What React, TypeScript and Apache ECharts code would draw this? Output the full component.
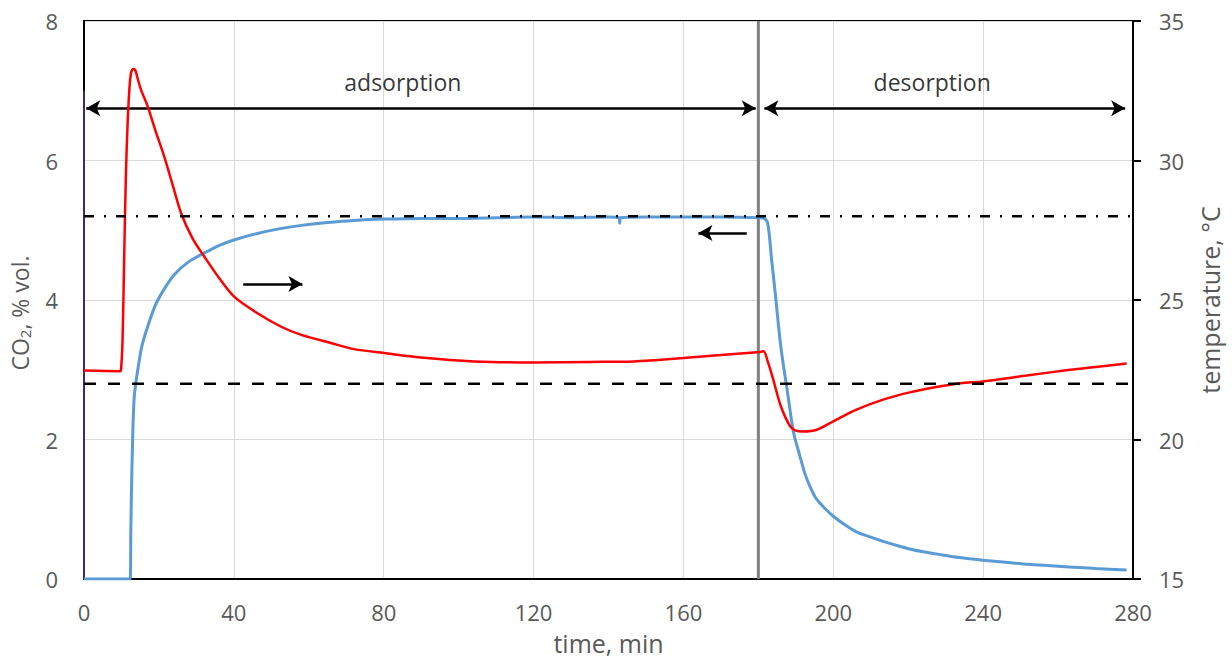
import React, { useEffect, useRef } from "react";
import * as echarts from "echarts";

// CO2 concentration (left axis, % vol.)
const co2Time = [0, 12.3, 12.5, 12.8, 13.4, 14.5, 15.5, 17, 19, 21, 24, 28, 32, 36, 40, 46, 52, 58, 65, 72, 80, 90, 100, 110, 120, 130, 140, 142.8, 143, 143.2, 150, 160, 170, 180, 181.5, 182.5, 183.5, 184.5, 186, 187.8, 189.4, 191, 192.5, 194, 195.6, 198, 200, 203, 206, 210, 213.3, 217, 220.4, 224, 227.5, 232, 236.5, 240, 246, 252, 258, 264, 270, 278.3];
const co2Values = [0, 0, 0.7, 1.6, 2.6, 3.05, 3.35, 3.62, 3.92, 4.12, 4.36, 4.55, 4.67, 4.78, 4.86, 4.95, 5.02, 5.07, 5.11, 5.14, 5.16, 5.17, 5.17, 5.18, 5.19, 5.18, 5.19, 5.18, 5.1, 5.18, 5.19, 5.19, 5.19, 5.18, 5.17, 5.1, 4.6, 4.1, 3.33, 2.67, 2.1, 1.78, 1.5, 1.3, 1.14, 1.0, 0.9, 0.78, 0.68, 0.6, 0.54, 0.48, 0.43, 0.39, 0.36, 0.32, 0.29, 0.27, 0.24, 0.21, 0.19, 0.17, 0.15, 0.13];

// temperature (right axis, °C)
const tempTime = [0, 9.7, 9.9, 10.3, 10.75, 11.2, 11.65, 12.1, 12.5, 12.9, 13.4, 13.8, 14.3, 15.2, 17, 19, 21.4, 23.5, 25.9, 29, 32.1, 36, 40, 46, 52.5, 58, 65.9, 72.1, 80.1, 89.9, 104.1, 120.1, 135, 146.7, 160, 170, 180.5, 181.4, 182.5, 184, 186, 188.5, 190, 192, 195.6, 200, 206.2, 213.3, 220.4, 227.5, 234, 240, 251.6, 263.2, 270, 278.3];
const tempValues = [22.47, 22.45, 22.5, 23.58, 26.7, 29.56, 31.35, 32.53, 33.1, 33.26, 33.28, 33.2, 32.95, 32.54, 31.94, 31.1, 30.15, 29.2, 28.12, 27.2, 26.56, 25.8, 25.13, 24.55, 24.05, 23.75, 23.46, 23.24, 23.1, 22.94, 22.8, 22.76, 22.78, 22.8, 22.92, 23.03, 23.14, 23.16, 22.8, 22.14, 21.19, 20.47, 20.32, 20.29, 20.35, 20.65, 21.07, 21.43, 21.69, 21.88, 22.02, 22.08, 22.29, 22.5, 22.6, 22.72];

// reference lines
const co2Reference = 5.2; // dash-dot, left axis
const tempReference = 22; // dashed, right axis
const phaseBoundary = 180; // min

// phase labels
const phaseNames = ["adsorption", "desorption"];
const phaseLabelPos = [[85.1, 7.12], [226.4, 7.12]];

// axis ticks
const xTicks = { min: 0, max: 280, interval: 40 };
const co2Ticks = { min: 0, max: 8, interval: 2 };
const tempTicks = { min: 15, max: 35, interval: 5 };

const FONT = "Open Sans";
const GREY = "#595959";

export default function App() {
  const ref = useRef<HTMLDivElement>(null);

  useEffect(() => {
    if (!ref.current) return;
    const chart = echarts.init(ref.current, null, { renderer: "svg" });

    const co2Data = co2Time.map((t, i) => [t, co2Values[i]]);
    const tempData = tempTime.map((t, i) => [t, tempValues[i]]);

    const option: any = {
      animation: false,
      textStyle: { fontFamily: FONT },
      grid: {
        left: 83,
        right: 99,
        top: 21,
        bottom: 83,
        show: true,
        borderColor: "#000",
        borderWidth: 2,
        backgroundColor: "transparent",
      },
      xAxis: {
        type: "value",
        min: xTicks.min,
        max: xTicks.max,
        interval: xTicks.interval,
        axisLine: { show: true, onZero: false, lineStyle: { color: "#000", width: 2 } },
        axisTick: { show: false },
        axisLabel: { margin: 22, fontSize: 22, color: GREY, fontFamily: FONT },
        splitLine: { show: true, lineStyle: { color: "#d9d9d9", width: 1 } },
        name: "time, min",
        nameLocation: "middle",
        nameGap: 51,
        nameTextStyle: { fontSize: 25, color: GREY, fontFamily: FONT },
      },
      yAxis: [
        {
          type: "value",
          position: "left",
          min: co2Ticks.min,
          max: co2Ticks.max,
          interval: co2Ticks.interval,
          axisLine: { show: true, lineStyle: { color: "#000", width: 2 } },
          axisTick: { show: false },
          axisLabel: { margin: 26, fontSize: 22, color: GREY, fontFamily: FONT },
          splitLine: { show: true, lineStyle: { color: "#d9d9d9", width: 1 } },
          name: "CO{sub|2}, % vol.",
          nameLocation: "middle",
          nameRotate: 90,
          nameGap: 52,
          nameTextStyle: {
            fontSize: 23,
            color: GREY,
            fontFamily: FONT,
            padding: [0, 26, 0, 0],
            rich: {
              sub: { fontSize: 15, color: GREY, fontFamily: FONT, verticalAlign: "bottom", padding: [10, 0, 0, 0] },
            },
          },
        },
        {
          type: "value",
          position: "right",
          min: tempTicks.min,
          max: tempTicks.max,
          interval: tempTicks.interval,
          axisLine: { show: true, lineStyle: { color: "#000", width: 2 } },
          axisTick: { show: true, inside: false, length: 8, lineStyle: { color: "#000", width: 2 } },
          axisLabel: { margin: 26, fontSize: 22, color: GREY, fontFamily: FONT },
          splitLine: { show: false },
          name: "temperature, °C",
          nameLocation: "middle",
          nameRotate: 90,
          nameGap: 64,
          nameTextStyle: { fontSize: 25, color: GREY, fontFamily: FONT },
        },
      ],
      series: [
        {
          name: "edge",
          type: "line",
          yAxisIndex: 0,
          data: [[0, 0], [0, 7]],
          showSymbol: false,
          silent: true,
          lineStyle: { color: "#40286a", width: 2 },
          z: 3,
        },
        {
          name: "boundary",
          type: "line",
          yAxisIndex: 0,
          data: [[phaseBoundary, co2Ticks.min], [phaseBoundary, co2Ticks.max]],
          showSymbol: false,
          silent: true,
          lineStyle: { color: "#808080", width: 3 },
          z: 2,
        },
        {
          name: "CO2",
          type: "line",
          yAxisIndex: 0,
          data: co2Data,
          showSymbol: false,
          smooth: 0.3,
          lineStyle: { color: "#5b9bd5", width: 3 },
          itemStyle: { color: "#5b9bd5" },
          z: 4,
        },
        {
          name: "temperature",
          type: "line",
          yAxisIndex: 1,
          data: tempData,
          showSymbol: false,
          smooth: 0.3,
          lineStyle: { color: "#ff0000", width: 2.5 },
          itemStyle: { color: "#ff0000" },
          z: 5,
        },
        {
          name: "co2ref",
          type: "line",
          yAxisIndex: 0,
          data: [[xTicks.min, co2Reference], [xTicks.max, co2Reference]],
          showSymbol: false,
          silent: true,
          lineStyle: { color: "#000", width: 2.5, type: [10, 10, 2, 10] },
          z: 6,
        },
        {
          name: "tempref",
          type: "line",
          yAxisIndex: 1,
          data: [[xTicks.min, tempReference], [xTicks.max, tempReference]],
          showSymbol: false,
          silent: true,
          lineStyle: { color: "#000", width: 2.5, type: [12, 12] },
          z: 6,
        },
        {
          name: "arrows",
          type: "line",
          yAxisIndex: 0,
          data: [],
          silent: true,
          z: 7,
          markLine: {
            silent: true,
            animation: false,
            symbol: ["arrow", "arrow"],
            symbolSize: [12, 14],
            label: { show: false },
            lineStyle: { color: "#000", width: 2.5, type: "solid" },
            emphasis: { disabled: true },
            data: [
              [{ coord: [0.6, 6.75] }, { coord: [179.3, 6.75] }],
              [{ coord: [181.6, 6.75] }, { coord: [277.9, 6.75] }],
              [{ coord: [42.5, 4.23], symbol: "none" }, { coord: [58.3, 4.23], symbol: "arrow" }],
              [{ coord: [176.9, 4.96], symbol: "none" }, { coord: [164.0, 4.96], symbol: "arrow" }],
            ],
          },
        },
        {
          name: "phases",
          type: "scatter",
          yAxisIndex: 0,
          symbolSize: 1,
          itemStyle: { color: "rgba(0,0,0,0)" },
          silent: true,
          z: 8,
          label: {
            show: true,
            position: "inside",
            formatter: "{b}",
            color: "#000",
            fontSize: 23,
            fontFamily: FONT,
          },
          data: phaseNames.map((n, i) => ({ name: n, value: phaseLabelPos[i] })),
        },
      ],
    };

    chart.setOption(option);
    return () => chart.dispose();
  }, []);

  return (
    <div
      ref={ref}
      style={{ position: "absolute", left: 0, top: 0, width: 1232, height: 662, background: "#fff" }}
    />
  );
}
